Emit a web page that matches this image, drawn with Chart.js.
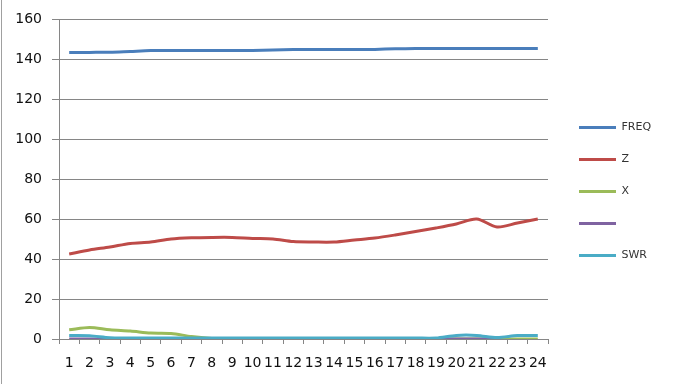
<!DOCTYPE html>
<html>
<head>
<meta charset="utf-8">
<script src="https://cdn.jsdelivr.net/npm/chart.js@4.4.0/dist/chart.umd.min.js"></script>
<style>
    html, body { margin: 0; padding: 0; background: #fff; }
    #wrap { position: relative; width: 683px; height: 384px; }
    #edge { position: absolute; left: 1px; top: 0; width: 1px; height: 384px; background: #a0a0a0; }
</style>
</head>
<body>
<div id="wrap">
    <canvas id="chart" width="683" height="384"></canvas>
    <div id="edge"></div>
</div>
<script>
const categories = ['1','2','3','4','5','6','7','8','9','10','11','12','13','14','15','16','17','18','19','20','21','22','23','24'];
const yTicks = [0, 20, 40, 60, 80, 100, 120, 140, 160];

const freq = [143.2, 143.3, 143.4, 143.8, 144.2, 144.3, 144.3, 144.3, 144.3, 144.3, 144.5, 144.7,
              144.7, 144.7, 144.7, 144.8, 145.1, 145.2, 145.3, 145.3, 145.3, 145.3, 145.3, 145.3];
const z = [42.5, 44.5, 46, 47.8, 48.5, 50, 50.6, 50.8, 50.8, 50.3, 50, 48.7,
           48.5, 48.5, 49.5, 50.5, 52, 53.7, 55.5, 57.5, 60, 56, 58, 60];
const x = [4.6, 5.8, 4.6, 4.0, 3.0, 2.8, 1.2, 0.3, 0, 0, 0, 0,
           0, 0, 0, 0, 0, 0, 0, 0, 0, 0, 0, 0];
const unnamed = [0, 0, 0, 0, 0, 0, 0, 0, 0, 0, 0, 0,
                 0, 0, 0, 0, 0, 0, 0, 0, 0, 0, null, null];
const swr = [1.7, 1.6, 0.6, 0.5, 0.5, 0.5, 0.5, 0.5, 0.5, 0.5, 0.5, 0.5,
             0.5, 0.5, 0.5, 0.5, 0.5, 0.5, 0.5, 1.8, 1.8, 0.7, 1.7, 1.7];

Chart.defaults.font.family = 'DejaVu Sans';
Chart.defaults.color = '#222';

function series(label, data, color) {
    return {
        label: label,
        data: data,
        borderColor: color,
        backgroundColor: color,
        borderWidth: 3,
        pointRadius: 0,
        tension: 0.3,
        fill: false
    };
}

// later series sit on top, so list them backwards and reverse the legend
const datasets = [
    series('SWR', swr, '#4aacc6'),
    series('', unnamed, '#7f63a1'),
    series('X', x, '#9bbb59'),
    series('Z', z, '#be4b48'),
    series('FREQ', freq, '#4a7ebb')
];

const legendFix = {
    id: 'legendFix',
    beforeUpdate(chart) {
        const lg = chart.legend;
        if (lg && !lg._fixed) {
            const fit = lg.fit;
            lg.fit = function() {
                fit.call(this);
                this.width = 135;
            };
            lg._fixed = true;
        }
    },
    afterLayout(chart) {
        // nudge the legend block to where the original sits
        const lg = chart.legend;
        lg.left += 10;
        lg.right += 10;
        lg.top -= 10;
        lg.bottom -= 10;
    }
};

new Chart(document.getElementById('chart'), {
    type: 'line',
    data: { labels: categories, datasets: datasets },
    plugins: [legendFix],
    options: {
        responsive: false,
        animation: false,
        layout: { padding: { top: 19, left: 0, right: 0, bottom: 0 } },
        plugins: {
            tooltip: { enabled: false },
            legend: {
                position: 'right',
                reverse: true,
                labels: {
                    usePointStyle: true,
                    pointStyle: 'line',
                    pointStyleWidth: 37,
                    padding: 21,
                    color: '#333',
                    font: { size: 11 }
                }
            }
        },
        scales: {
            x: {
                offset: true,
                grid: {
                    offset: true,
                    drawOnChartArea: false,
                    drawTicks: true,
                    tickLength: 5,
                    color: '#868686'
                },
                border: { color: '#868686' },
                ticks: {
                    autoSkip: false,
                    maxRotation: 0,
                    padding: 11,
                    font: { size: 14 },
                    color: '#111'
                },
                afterFit(scale) { scale.height = 45; }
            },
            y: {
                min: 0,
                max: 160,
                afterBuildTicks(scale) { scale.ticks = yTicks.map(v => ({ value: v })); },
                grid: { color: '#868686', tickLength: 7 },
                border: { color: '#868686' },
                ticks: {
                    padding: 10,
                    font: { size: 14 },
                    color: '#111'
                },
                afterFit(scale) { scale.width = 59; }
            }
        }
    }
});
</script>
</body>
</html>
